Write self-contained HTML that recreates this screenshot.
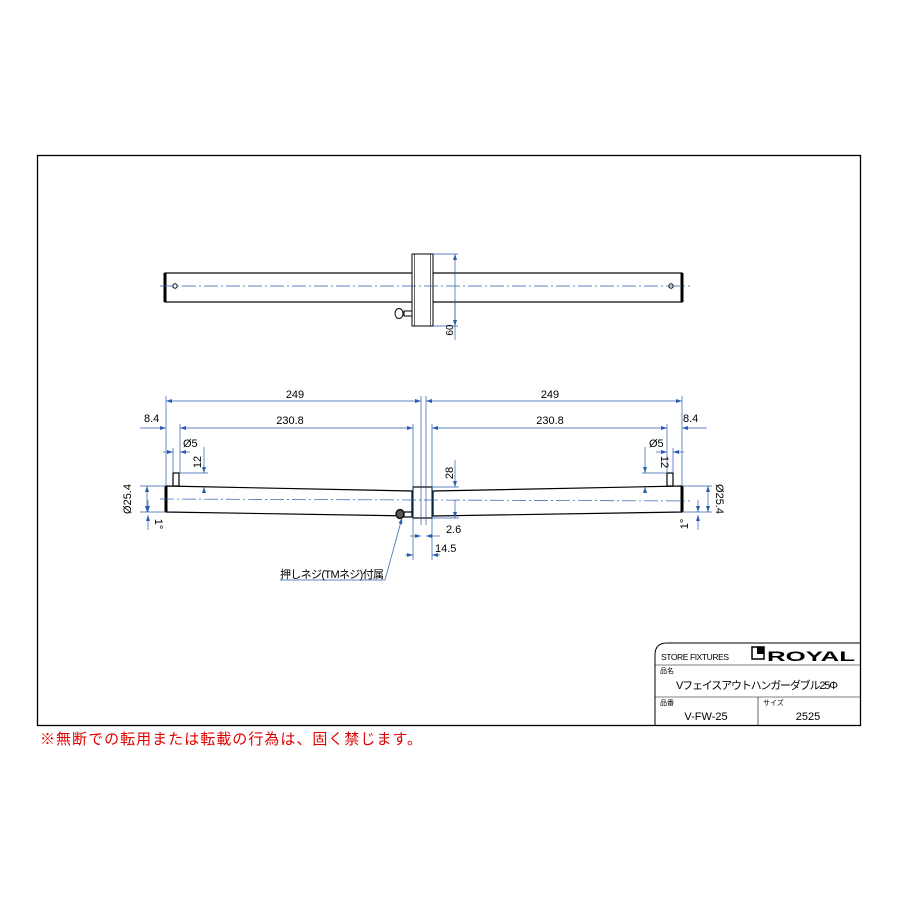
<!DOCTYPE html>
<html><head><meta charset="utf-8"><style>
body{margin:0;background:#fff}
svg text{font-family:"Liberation Sans","Noto Sans CJK JP",sans-serif}
</style></head><body>
<svg width="900" height="900" viewBox="0 0 900 900" xmlns="http://www.w3.org/2000/svg">
<defs>
<marker id="a" markerWidth="6" markerHeight="6" refX="6" refY="3" orient="auto-start-reverse" markerUnits="userSpaceOnUse"><path d="M0,1 L6,3 L0,5z" fill="#2a5db0"/></marker>
</defs>
<rect x="37.5" y="155.5" width="823" height="570" fill="none" stroke="#000" stroke-width="1.3"/>
<!-- TOP VIEW -->
<g stroke="#000" fill="none">
<rect x="165" y="273" width="517" height="29" stroke-width="1.2"/>
<line x1="165" y1="273" x2="165" y2="302" stroke-width="3"/>
<line x1="682" y1="273" x2="682" y2="302" stroke-width="3"/>
<rect x="412" y="254" width="21" height="72" fill="#fff"/>
<line x1="414.5" y1="254" x2="414.5" y2="326" stroke-width="0.6"/>
<line x1="430.5" y1="254" x2="430.5" y2="326" stroke-width="0.6"/>
<circle cx="175" cy="286" r="2.2"/><circle cx="671" cy="286" r="2.2"/>
<rect x="404" y="311" width="8" height="5" fill="#fff"/>
<ellipse cx="399" cy="313.5" rx="4" ry="5" fill="#fff"/>
</g>
<line x1="160" y1="286" x2="690" y2="286" stroke="#2a5db0" stroke-width="0.7" stroke-dasharray="14,3,2,3"/>
<g stroke="#2a5db0" stroke-width="0.7">
<line x1="433" y1="254" x2="458" y2="254"/><line x1="433" y1="326" x2="458" y2="326"/>
<line x1="455" y1="254" x2="455" y2="340" marker-start="url(#a)"/>
<line x1="455" y1="300" x2="455" y2="326" marker-end="url(#a)"/>
</g>
<text x="453" y="330" font-size="10" transform="rotate(-90 453 330)" text-anchor="middle" dy="0">60</text>
<!-- FRONT VIEW -->
<g stroke="#000" fill="#fff" stroke-width="1.2">
<polygon points="166,486 412,491 412,516 166,512"/>
<polygon points="682,486 433,491 433,516 682,512"/>
<rect x="413" y="487" width="19" height="31"/>
<rect x="173" y="473" width="6" height="13"/>
<rect x="667" y="473" width="6" height="13"/>
<rect x="404" y="512" width="8" height="5"/>
<ellipse cx="400" cy="514" rx="4" ry="4.5" fill="#555"/>
</g>
<line x1="166" y1="486" x2="166" y2="512" stroke="#000" stroke-width="3"/>
<line x1="682" y1="486" x2="682" y2="512" stroke="#000" stroke-width="3"/>
<line x1="160" y1="499" x2="690" y2="501" stroke="#2a5db0" stroke-width="0.7" stroke-dasharray="14,3,2,3"/>
<g stroke="#2a5db0" stroke-width="0.7" fill="none">
<line x1="166" y1="396" x2="166" y2="486"/><line x1="682" y1="396" x2="682" y2="486"/>
<line x1="421" y1="396" x2="421" y2="525"/><line x1="426" y1="396" x2="426" y2="525"/>
<line x1="180" y1="424" x2="180" y2="473"/><line x1="667" y1="424" x2="667" y2="473"/>
<line x1="413" y1="424" x2="413" y2="560"/><line x1="432" y1="424" x2="432" y2="560"/>
<line x1="173" y1="448" x2="173" y2="473"/><line x1="673" y1="448" x2="673" y2="473"/>
<line x1="166" y1="401" x2="421" y2="401" marker-start="url(#a)" marker-end="url(#a)"/>
<line x1="426" y1="401" x2="682" y2="401" marker-start="url(#a)" marker-end="url(#a)"/>
<line x1="180" y1="428" x2="413" y2="428" marker-start="url(#a)" marker-end="url(#a)"/>
<line x1="432" y1="428" x2="667" y2="428" marker-start="url(#a)" marker-end="url(#a)"/>
<line x1="140" y1="428" x2="166" y2="428" marker-end="url(#a)"/>
<line x1="707" y1="428" x2="682" y2="428" marker-end="url(#a)"/>
<line x1="163" y1="452" x2="173" y2="452" marker-end="url(#a)"/><line x1="190" y1="452" x2="180" y2="452" marker-end="url(#a)"/>
<line x1="656" y1="452" x2="667" y2="452" marker-end="url(#a)"/><line x1="684" y1="452" x2="673" y2="452" marker-end="url(#a)"/>
<line x1="180" y1="473" x2="208" y2="473"/><line x1="204" y1="447" x2="204" y2="473" marker-end="url(#a)"/><line x1="204" y1="492" x2="204" y2="487" marker-end="url(#a)"/>
<line x1="642" y1="473" x2="667" y2="473"/><line x1="645" y1="447" x2="645" y2="473" marker-end="url(#a)"/><line x1="645" y1="492" x2="645" y2="487" marker-end="url(#a)"/>
<line x1="432" y1="487" x2="459" y2="487"/><line x1="432" y1="518" x2="459" y2="518"/>
<line x1="455" y1="460" x2="455" y2="487" marker-end="url(#a)"/><line x1="455" y1="500" x2="455" y2="518" marker-end="url(#a)"/>
<line x1="140" y1="486" x2="166" y2="486"/><line x1="140" y1="512" x2="166" y2="512"/>
<line x1="147" y1="486" x2="147" y2="512" marker-start="url(#a)" marker-end="url(#a)"/>
<line x1="682" y1="486" x2="712" y2="486"/><line x1="682" y1="512" x2="712" y2="512"/>
<line x1="708" y1="486" x2="708" y2="512" marker-start="url(#a)" marker-end="url(#a)"/>
<line x1="148" y1="500" x2="148" y2="512" marker-end="url(#a)"/><line x1="148" y1="530" x2="148" y2="515" marker-end="url(#a)"/>
<line x1="698" y1="500" x2="698" y2="512" marker-end="url(#a)"/><line x1="698" y1="530" x2="698" y2="515" marker-end="url(#a)"/>
<line x1="410" y1="536" x2="421" y2="536" marker-end="url(#a)"/><line x1="440" y1="536" x2="426" y2="536" marker-end="url(#a)"/>
<line x1="405" y1="555" x2="413" y2="555" marker-end="url(#a)"/><line x1="440" y1="555" x2="432" y2="555" marker-end="url(#a)"/>
<line x1="280" y1="580" x2="385" y2="580"/><line x1="385" y1="580" x2="402" y2="518" marker-end="url(#a)"/>
</g>
<g font-size="11" fill="#000">
<text x="295" y="398" text-anchor="middle">249</text><text x="550" y="398" text-anchor="middle">249</text>
<text x="290" y="424" text-anchor="middle">230.8</text><text x="550" y="424" text-anchor="middle">230.8</text>
<text x="144" y="422">8.4</text><text x="683" y="422">8.4</text>
<text x="183" y="447">Ø5</text><text x="649" y="447">Ø5</text>
<text x="446" y="533">2.6</text><text x="435" y="552">14.5</text>
<text x="201" y="462" transform="rotate(-90 201 462)" text-anchor="middle">12</text>
<text x="661" y="462" transform="rotate(90 661 462)" text-anchor="middle">12</text>
<text x="453" y="473" transform="rotate(-90 453 473)" text-anchor="middle">28</text>
<text x="131" y="499" transform="rotate(-90 131 499)" text-anchor="middle">Ø25.4</text>
<text x="716" y="499" transform="rotate(90 716 499)" text-anchor="middle">Ø25.4</text>
<text x="155" y="524" transform="rotate(90 155 524)" text-anchor="middle">1°</text>
<text x="688" y="524" transform="rotate(-90 688 524)" text-anchor="middle">1°</text>
<text x="280" y="578" font-size="11" textLength="104">押しネジ(TMネジ)付属</text>
</g>
<g stroke="#000" fill="none" stroke-width="1">
<path d="M655,725 V655 Q655,643 667,643 H861"/>
<line x1="655" y1="665" x2="861" y2="665" stroke-width="0.6"/>
<line x1="655" y1="697" x2="861" y2="697" stroke-width="0.6"/>
<line x1="758" y1="697" x2="758" y2="725" stroke-width="0.6"/>
<rect x="752" y="647" width="12" height="12" stroke-width="1.5"/>
</g>
<rect x="757" y="647" width="7" height="7" fill="#000"/>
<text x="661" y="660" font-size="8.5" textLength="68">STORE FIXTURES</text>
<text x="767" y="661" font-size="14" font-weight="bold" textLength="88" lengthAdjust="spacingAndGlyphs">ROYAL</text>
<text x="660" y="673" font-size="7">品名</text>
<text x="676" y="689" font-size="11" textLength="162">Vフェイスアウトハンガーダブル25Φ</text>
<text x="660" y="705" font-size="7">品番</text>
<text x="763" y="705" font-size="7">サイズ</text>
<text x="706" y="720" font-size="11" text-anchor="middle">V-FW-25</text>
<text x="808" y="720" font-size="11" text-anchor="middle">2525</text>
<text x="40" y="744" font-size="15" fill="#e00000" textLength="382">※無断での転用または転載の行為は、固く禁じます。</text>
</svg>
</body></html>
